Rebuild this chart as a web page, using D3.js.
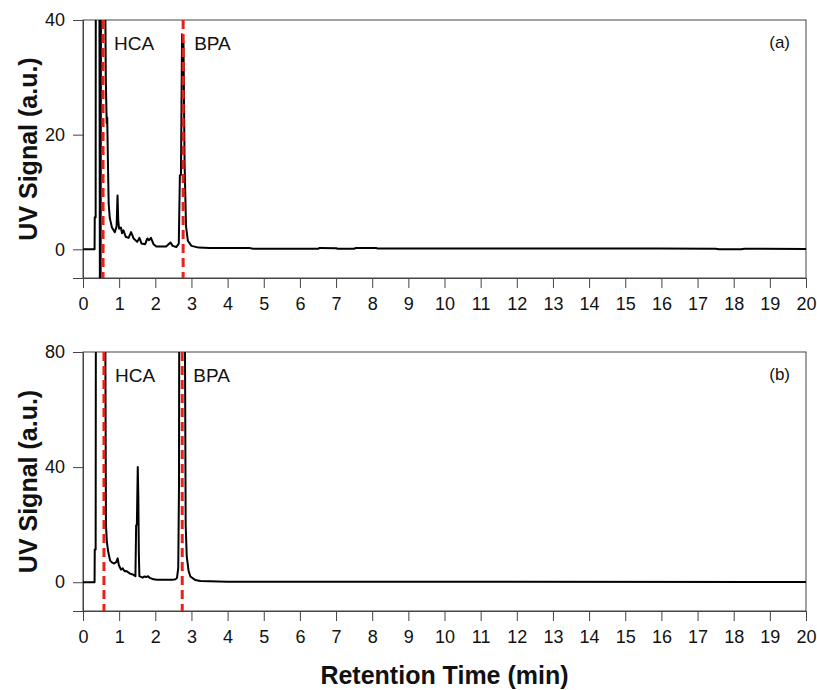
<!DOCTYPE html>
<html>
<head>
<meta charset="utf-8">
<script src="https://cdn.jsdelivr.net/npm/d3@7"></script>
<style>
  body { margin: 0; background: #fff; }
  text { font-family: Arial, "Liberation Sans", sans-serif; }
</style>
</head>
<body>
<svg id="chart" width="817" height="690"></svg>
<script>
// chromatogram (a): [time (min), signal]
const traceA = [
  [0, 0], [0.32, 0], [0.325, 5.6], [0.35, 5.6], [0.355, 60], [0.45, 60], [0.47, -20], [0.485, -20],
  [0.5, 60], [0.6, 60], [0.63, 30], [0.655, 22], [0.67, 23], [0.69, 15], [0.71, 8], [0.74, 5.5],
  [0.8, 3.8], [0.88, 3], [0.93, 4], [0.955, 9.4], [0.975, 5], [1.0, 3.6], [1.05, 3.8], [1.08, 2.8],
  [1.12, 3.3], [1.18, 2.2], [1.26, 2.0], [1.33, 3.0], [1.4, 1.9], [1.5, 1.3], [1.56, 2.0], [1.62, 1.0],
  [1.72, 0.9], [1.78, 1.9], [1.83, 1.6], [1.88, 2.0], [1.95, 0.9], [2.03, 0.5], [2.3, 0.5], [2.42, 1.2],
  [2.48, 0.6], [2.58, 0.4], [2.65, 1.0], [2.68, 12.9], [2.71, 13], [2.74, 37.5], [2.78, 36], [2.81, 15],
  [2.85, 4], [2.9, 1.5], [3.0, 0.6], [3.2, 0.3], [3.5, 0.25], [4.6, 0.25], [4.7, 0.1], [6.5, 0.1],
  [6.55, 0.25], [7.0, 0.2], [7.05, 0.1], [7.5, 0.1], [7.55, 0.25], [8.1, 0.25], [8.15, 0.15],
  [15.9, 0.15], [17.5, 0.1], [17.6, 0.0], [18.2, 0.0], [18.3, 0.1], [20, 0.05]
];

// chromatogram (b)
const traceB = [
  [0, 0], [0.32, 0], [0.325, 11.4], [0.35, 11.4], [0.36, 150], [0.6, 150], [0.635, 20], [0.66, 14],
  [0.7, 10.4], [0.75, 7.5], [0.8, 6.9], [0.85, 6.5], [0.92, 7], [0.96, 8.3], [0.99, 6], [1.05, 4.4],
  [1.1, 4.8], [1.15, 3.8], [1.2, 3.9], [1.3, 3.0], [1.38, 2.7], [1.45, 2.1], [1.47, 19.8], [1.49, 20],
  [1.515, 40], [1.53, 30], [1.545, 10], [1.56, 2.1], [1.65, 1.6], [1.7, 2.0], [1.75, 1.8], [1.8, 2.1],
  [1.85, 1.5], [1.95, 1.0], [2.05, 0.9], [2.5, 0.9], [2.56, 1.0], [2.6, 1.5], [2.635, 5], [2.655, 33],
  [2.67, 150], [2.8, 150], [2.84, 20], [2.87, 9], [2.92, 4], [2.97, 2], [3.1, 0.8], [3.25, 0.4],
  [4.0, 0.2], [20, 0.1]
];

const xTicks = d3.range(0, 21);
const yTicksA = [0, 20, 40];
const yTicksB = [0, 40, 80];
const markersA = [0.555, 2.77];   // HCA, BPA
const markersB = [0.58, 2.745];
const peakNames = ['HCA', 'BPA'];

const svg = d3.select('#chart');
const left = 83, right = 806;

const x = d3.scaleLinear().domain([0, 20]).range([left, right]);

function drawPanel(data, yDomain, yTicks, markers, tag, top, bottom, id) {
  const y = d3.scaleLinear().domain(yDomain).range([bottom, top]);
  const g = svg.append('g');

  // clip region
  svg.append('clipPath').attr('id', id)
    .append('rect').attr('x', left).attr('y', top).attr('width', right - left).attr('height', bottom - top);

  // frame
  g.append('rect')
    .attr('x', left).attr('y', top)
    .attr('width', right - left).attr('height', bottom - top)
    .attr('fill', 'none').attr('stroke', '#444').attr('stroke-width', 1);

  // axes
  const xAxis = g.append('g').attr('transform', `translate(0,${bottom})`)
    .call(d3.axisBottom(x).tickValues(xTicks).tickSize(10).tickPadding(9).tickFormat(d3.format('d')));
  const yAxis = g.append('g').attr('transform', `translate(${left},0)`)
    .call(d3.axisLeft(y).tickValues(yTicks).tickSize(10).tickPadding(8));
  [xAxis, yAxis].forEach(a => {
    a.select('.domain').attr('stroke', '#444');
    a.selectAll('.tick line').attr('stroke', '#444');
    a.selectAll('.tick text').attr('font-size', 18).attr('fill', '#111')
      .attr('font-family', 'Arial, "Liberation Sans", sans-serif');
  });

  // signal trace
  const line = d3.line().x(d => x(d[0])).y(d => y(d[1]));
  g.append('path')
    .datum(data)
    .attr('clip-path', `url(#${id})`)
    .attr('d', line)
    .attr('fill', 'none')
    .attr('stroke', '#000')
    .attr('stroke-width', 2)
    .attr('stroke-linejoin', 'round');

  // retention markers
  g.selectAll('.marker').data(markers).enter().append('line')
    .attr('x1', d => x(d)).attr('x2', d => x(d))
    .attr('y1', top).attr('y2', bottom)
    .attr('stroke', '#e8221b').attr('stroke-width', 3)
    .attr('stroke-dasharray', '9,5');

  // peak names
  g.selectAll('.pname').data(markers).enter().append('text')
    .attr('x', d => x(d) + 11)
    .attr('y', top + 30)
    .attr('font-size', 19)
    .attr('fill', '#111')
    .text((d, i) => peakNames[i]);

  // panel tag
  g.append('text')
    .attr('x', 790).attr('y', top + 28)
    .attr('text-anchor', 'end')
    .attr('font-size', 17)
    .attr('fill', '#111')
    .text(tag);

  // y title
  g.append('text')
    .attr('transform', `translate(37,${(top + bottom) / 2}) rotate(-90)`)
    .attr('text-anchor', 'middle')
    .attr('font-size', 25)
    .attr('font-weight', 'bold')
    .attr('fill', '#111')
    .text('UV Signal (a.u.)');
}

drawPanel(traceA, [-5, 40], yTicksA, markersA, '(a)', 20, 278, 'clipA');
drawPanel(traceB, [-10, 80], yTicksB, markersB, '(b)', 352, 611, 'clipB');

// x title
svg.append('text')
  .attr('x', (left + right) / 2).attr('y', 684)
  .attr('text-anchor', 'middle')
  .attr('font-size', 25)
  .attr('font-weight', 'bold')
  .attr('fill', '#111')
  .text('Retention Time (min)');
</script>
</body>
</html>
